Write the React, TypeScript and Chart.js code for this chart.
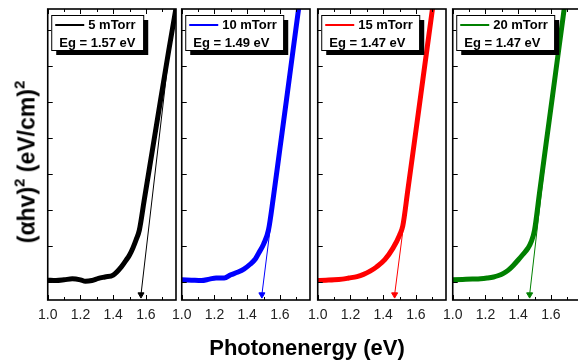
import React, { useEffect, useRef } from "react";
import { Chart, registerables } from "chart.js";

Chart.register(...registerables);

const FONT = "'Liberation Sans', Arial, Helvetica, sans-serif";

// ---- data ----
const energy5 = [1.0, 1.05, 1.1, 1.15, 1.2, 1.23, 1.27, 1.31, 1.35, 1.4, 1.45, 1.48, 1.5, 1.52, 1.54, 1.56, 1.59, 1.64, 1.69, 1.74, 1.78, 1.8];
const absorb5 = [0.05, 0.04, 0.06, 0.09, 0.06, 0.02, 0.04, 0.1, 0.14, 0.19, 0.42, 0.61, 0.75, 0.94, 1.17, 1.44, 2.28, 3.67, 5.06, 6.44, 7.5, 8.0];

const energy10 = [1.0, 1.06, 1.12, 1.17, 1.21, 1.26, 1.3, 1.34, 1.38, 1.42, 1.45, 1.47, 1.5, 1.53, 1.56, 1.6, 1.64, 1.68, 1.713, 1.74];
const absorb10 = [0.06, 0.05, 0.04, 0.08, 0.11, 0.11, 0.2, 0.27, 0.36, 0.5, 0.64, 0.8, 1.05, 1.44, 2.35, 3.7, 5.05, 6.42, 7.54, 8.45];

const energy15 = [1.0, 1.05, 1.1, 1.15, 1.19, 1.24, 1.28, 1.32, 1.36, 1.41, 1.46, 1.5, 1.52, 1.55, 1.59, 1.63, 1.67, 1.7, 1.73];
const absorb15 = [0.04, 0.05, 0.06, 0.08, 0.11, 0.15, 0.21, 0.3, 0.42, 0.62, 0.94, 1.3, 1.56, 2.53, 3.86, 5.2, 6.54, 7.54, 8.5];

const energy20 = [1.0, 1.06, 1.12, 1.17, 1.21, 1.25, 1.28, 1.31, 1.34, 1.37, 1.4, 1.43, 1.46, 1.48, 1.5, 1.53, 1.57, 1.61, 1.65, 1.68, 1.71];
const absorb20 = [0.06, 0.07, 0.08, 0.09, 0.11, 0.14, 0.18, 0.24, 0.33, 0.46, 0.61, 0.77, 0.94, 1.12, 1.44, 2.46, 3.82, 5.17, 6.53, 7.54, 8.6];

const pressureLabels = ["5 mTorr", "10 mTorr", "15 mTorr", "20 mTorr"];
const bandGaps = [1.57, 1.49, 1.47, 1.47];
const tangentEndX = [1.755, 1.62, 1.6, 1.617];
const tangentEndY = [6.9, 4.35, 4.23, 5.45];
const arrowY = -0.35;
const colors = ["#000000", "#0000ff", "#ff0000", "#008000"];

const xTickLabels = [1.0, 1.2, 1.4, 1.6];
const xMinorTicks = [1.0, 1.1, 1.2, 1.3, 1.4, 1.5, 1.6, 1.7];
const yTicks = [0, 1, 2, 3, 4, 5, 6, 7];
const xMin = 1.0;
const xMax = 1.784;
const yMin = -0.5;
const yMax = 7.58;

const energies = [energy5, energy10, energy15, energy20];
const absorbs = [absorb5, absorb10, absorb15, absorb20];

// ---- layout ----
const panelLefts = [45, 179, 315, 450];
const panelWidth = 131;
const PAD = 14;
const CANVAS_H = 361;

function Panel({ idx }: { idx: number }) {
  const ref = useRef<HTMLCanvasElement | null>(null);
  useEffect(() => {
    const canvas = ref.current;
    if (!canvas) return;
    const color = colors[idx];
    const curve = energies[idx].map((x, i) => ({ x, y: absorbs[idx][i] }));
    const tangent = [
      { x: bandGaps[idx], y: arrowY },
      { x: tangentEndX[idx], y: tangentEndY[idx] },
    ];
    const framePlugin = {
      id: "frame" + idx,
      afterDatasetsDraw(chart: any) {
        const { ctx, chartArea } = chart;
        const xs = chart.scales.x;
        const ys = chart.scales.y;
        ctx.save();
        ctx.strokeStyle = "#000";
        ctx.lineWidth = 1;
        // inward ticks
        ctx.beginPath();
        xMinorTicks.forEach((v) => {
          const px = Math.round(xs.getPixelForValue(v)) + 0.5;
          const major = Math.round(v * 10) % 2 === 0;
          const len = major ? 5 : 3;
          ctx.moveTo(px, chartArea.bottom);
          ctx.lineTo(px, chartArea.bottom - len);
          ctx.moveTo(px, chartArea.top);
          ctx.lineTo(px, chartArea.top + len);
        });
        yTicks.forEach((v) => {
          const py = Math.round(ys.getPixelForValue(v)) + 0.5;
          ctx.moveTo(chartArea.left, py);
          ctx.lineTo(chartArea.left + 5, py);
        });
        ctx.stroke();
        // frame
        ctx.lineWidth = 1.6;
        ctx.strokeRect(chartArea.left, chartArea.top, chartArea.right - chartArea.left, chartArea.bottom - chartArea.top);

        // legend box
        const bx = chartArea.left + 3.5;
        const by = chartArea.top + 6;
        const bw = idx === 0 ? 92 : 98;
        const bh = 35;
        ctx.fillStyle = "#000";
        ctx.fillRect(bx + 5, by + 5, bw, bh);
        ctx.fillStyle = "#fff";
        ctx.fillRect(bx, by, bw, bh);
        ctx.lineWidth = 1;
        ctx.strokeStyle = "#000";
        ctx.strokeRect(bx + 0.5, by + 0.5, bw, bh);
        ctx.strokeStyle = color;
        ctx.lineWidth = 2;
        ctx.beginPath();
        ctx.moveTo(bx + 4, by + 10);
        ctx.lineTo(bx + 33, by + 10);
        ctx.stroke();
        ctx.fillStyle = "#000";
        ctx.font = `bold 13px ${FONT}`;
        ctx.textBaseline = "middle";
        ctx.textAlign = "left";
        ctx.fillText(pressureLabels[idx], bx + 37, by + 10.5);
        ctx.fillText(`Eg = ${bandGaps[idx].toFixed(2)} eV`, bx + 8, by + 28);
        ctx.restore();
      },
    };

    const chart = new Chart(canvas, {
      type: "line",
      data: {
        datasets: [
          {
            data: tangent,
            borderColor: color,
            backgroundColor: color,
            borderWidth: 1,
            pointRadius: [3.5, 0],
            pointHoverRadius: 0,
            pointStyle: "triangle",
            rotation: 180,
            pointBackgroundColor: color,
            pointBorderColor: color,
            pointBorderWidth: 1,
            tension: 0,
            clip: 0,
          } as any,
          {
            data: curve,
            borderColor: color,
            backgroundColor: color,
            borderWidth: 5,
            pointRadius: 0,
            cubicInterpolationMode: "monotone",
            fill: false,
            clip: 0,
          } as any,
        ],
      },
      options: {
        animation: false,
        responsive: false,
        maintainAspectRatio: false,
        devicePixelRatio: 1,
        events: [],
        layout: { padding: { left: PAD, right: PAD, top: 9, bottom: 0 } },
        plugins: { legend: { display: false }, tooltip: { enabled: false }, title: { display: false } },
        scales: {
          x: {
            type: "linear",
            min: xMin,
            max: xMax,
            position: "bottom",
            grid: { display: false, drawTicks: false },
            border: { display: false },
            afterBuildTicks: (s: any) => {
              s.ticks = xTickLabels.map((v) => ({ value: v }));
            },
            afterFit: (s: any) => {
              s.height = 61;
            },
            ticks: {
              autoSkip: false,
              maxRotation: 0,
              padding: 7,
              color: "#222",
              font: { family: FONT, size: 14 },
              callback: (v: any) => Number(v).toFixed(1),
            },
          },
          y: {
            type: "linear",
            display: false,
            min: yMin,
            max: yMax,
          },
        },
      },
      plugins: [framePlugin],
    } as any);
    return () => chart.destroy();
  }, [idx]);

  return (
    <canvas
      ref={ref}
      width={panelWidth + 2 * PAD}
      height={CANVAS_H}
      style={{
        position: "absolute",
        left: panelLefts[idx] - PAD,
        top: 0,
        width: panelWidth + 2 * PAD,
        height: CANVAS_H,
      }}
    />
  );
}

export default function App() {
  return (
    <div
      style={{
        position: "fixed",
        left: 0,
        top: 0,
        width: 578,
        height: 361,
        overflow: "hidden",
        background: "#fff",
        fontFamily: FONT,
      }}
    >
      {[0, 1, 2, 3].map((i) => (
        <Panel key={i} idx={i} />
      ))}
      <div
        style={{
          position: "absolute",
          left: 28,
          top: 162,
          transform: "translate(-50%, -50%) rotate(-90deg)",
          whiteSpace: "nowrap",
          fontWeight: "bold",
          fontSize: 23,
          lineHeight: "23px",
          color: "#000",
        }}
      >
        (αhv)<span style={{ fontSize: 15, position: "relative", top: -10 }}>2</span> (eV/cm)
        <span style={{ fontSize: 15, position: "relative", top: -10 }}>2</span>
      </div>
      <div
        style={{
          position: "absolute",
          left: 307,
          top: 337,
          transform: "translateX(-50%)",
          whiteSpace: "nowrap",
          fontWeight: "bold",
          fontSize: 22,
          lineHeight: "22px",
          color: "#000",
        }}
      >
        Photonenergy (eV)
      </div>
    </div>
  );
}
